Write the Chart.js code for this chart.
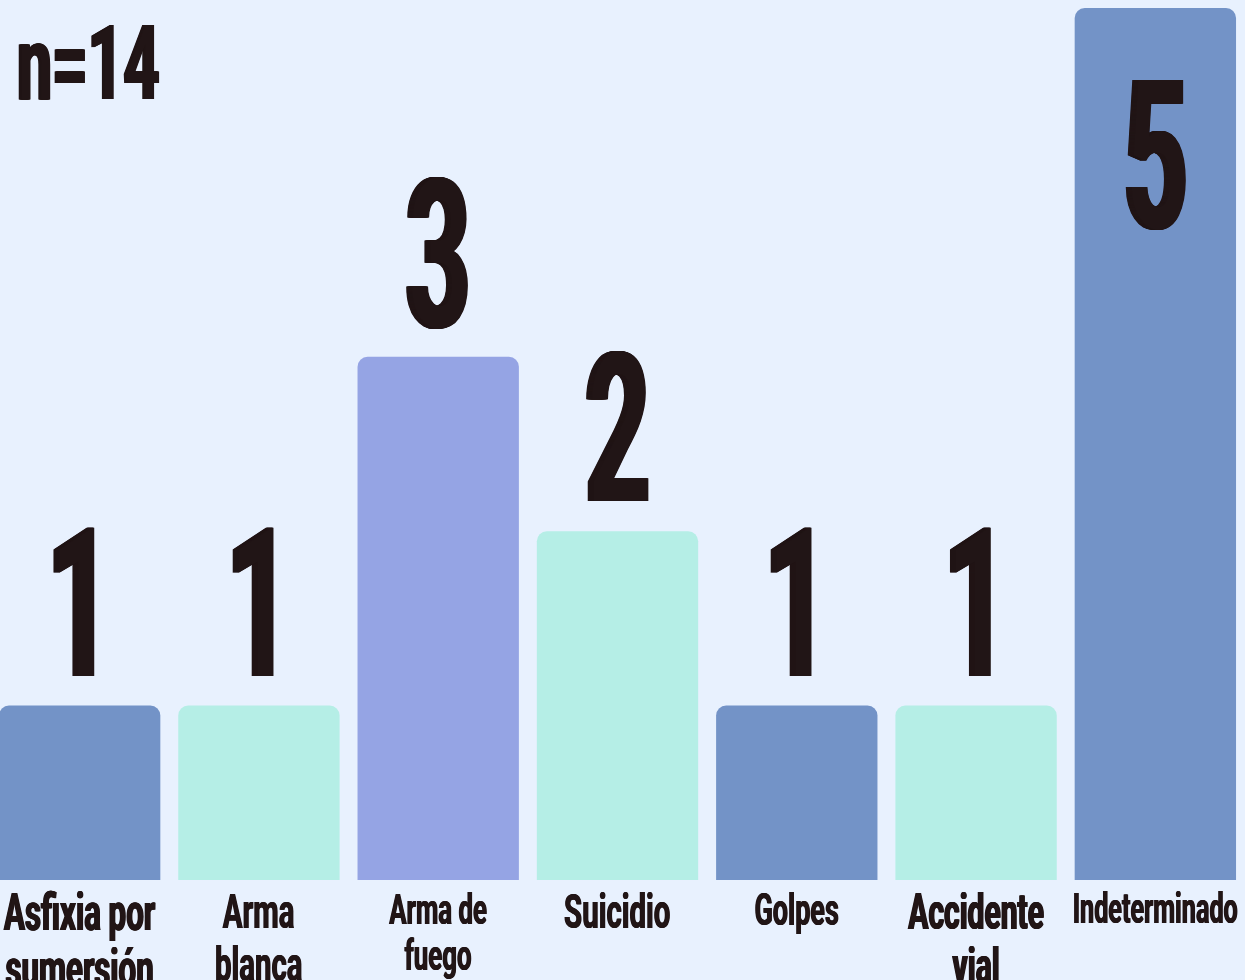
<!DOCTYPE html>
<html lang="es">
<head>
<meta charset="utf-8">
<title>Causas de muerte (n=14)</title>
<script src="https://cdn.jsdelivr.net/npm/chart.js@4.4.1/dist/chart.umd.min.js"></script>
<style>
  html, body { margin: 0; padding: 0; background: #e8f1fe; overflow: hidden; }
  #wrap { position: absolute; left: -10px; top: 0; width: 1255px; height: 980px; }
</style>
</head>
<body>
<div id="wrap"><canvas id="chart" width="1255" height="980"></canvas></div>
<script>
// data
const categories = [
  ["Asfixia por", "sumersión"],
  ["Arma", "blanca"],
  ["Arma de", "fuego"],
  ["Suicidio"],
  ["Golpes"],
  ["Accidente", "vial"],
  ["Indeterminado"]
];
const counts = [1, 1, 3, 2, 1, 1, 5];

// styles
const BLUE = "#7393c7";
const MINT = "#b5eee6";
const LILAC = "#95a4e4";
const barColors = [BLUE, MINT, LILAC, MINT, BLUE, MINT, BLUE];
const labelSizes = [52, 49, 43, 49, 45, 50, 42];
const INK = "#211516";
const FONT = 'Roboto, "Liberation Sans", Arial, sans-serif';
const CAP = 0.711; // cap height / em for Roboto

// draw a squeezed, slightly emboldened string (condensed display look)
function condensedText(ctx, text, x, y, size, align, sx) {
  ctx.save();
  ctx.font = "bold " + size + "px " + FONT;
  ctx.fillStyle = INK;
  ctx.textAlign = align;
  ctx.textBaseline = "alphabetic";
  ctx.translate(x, y);
  ctx.scale(sx, 1);
  const b = size * 0.015;
  for (let d = -b; d <= b + 0.01; d += 0.5) {
    ctx.fillText(text, d / sx, 0);
  }
  ctx.restore();
}

const textPlugin = {
  id: "textPlugin",
  afterDatasetsDraw(chart) {
    const ctx = chart.ctx;
    const x = chart.scales.x;
    const y = chart.scales.y;
    const area = chart.chartArea;

    // value labels
    const valueSize = 208;
    const capH = valueSize * CAP;
    counts.forEach((v, i) => {
      const cx = x.getPixelForValue(i);
      const top = y.getPixelForValue(v);
      let base = top - 30;
      if (base - capH < 0) base = top + 72 + capH;
      condensedText(ctx, String(v), cx, base, valueSize, "center", 0.54);
    });

    // category labels under the bars
    categories.forEach((lines, i) => {
      const cx = x.getPixelForValue(i);
      const size = labelSizes[i];
      let base = area.bottom + 13 + size * CAP;
      lines.forEach((line) => {
        condensedText(ctx, line, cx, base, size, "center", 0.6);
        base += size * 1.08;
      });
    });

    // sample size
    const n = counts.reduce((a, b) => a + b, 0);
    condensedText(ctx, "n=" + n, 27, 99, 104, "left", 0.6);
  }
};

new Chart(document.getElementById("chart").getContext("2d"), {
  type: "bar",
  data: {
    labels: categories,
    datasets: [
      {
        data: counts,
        backgroundColor: barColors,
        borderRadius: { topLeft: 10, topRight: 10, bottomLeft: 0, bottomRight: 0 },
        borderSkipped: false,
        barPercentage: 0.9,
        categoryPercentage: 1.0,
      },
    ],
  },
  options: {
    responsive: false,
    animation: false,
    layout: { padding: { top: 0, bottom: 100, left: 0, right: 0 } },
    plugins: {
      legend: { display: false },
      tooltip: { enabled: false },
    },
    scales: {
      x: { display: false },
      y: { display: false, min: 0, max: 880 / 174.4 },
    },
  },
  plugins: [textPlugin],
});
</script>
</body>
</html>
